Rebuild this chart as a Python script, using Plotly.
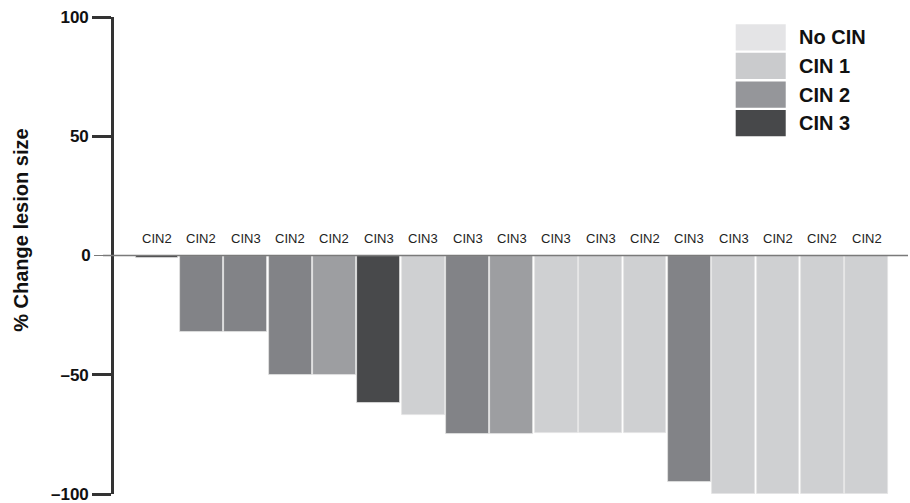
import plotly.graph_objects as go

# Per-lesion percent change in lesion size, ordered as a waterfall
baseline_grade = ["CIN2", "CIN2", "CIN3", "CIN2", "CIN2", "CIN3", "CIN3", "CIN3", "CIN3",
                  "CIN3", "CIN3", "CIN2", "CIN3", "CIN3", "CIN2", "CIN2", "CIN2"]
pct_change = [-1, -32, -32, -50, -50, -62, -67, -75, -75,
              -74.5, -74.5, -74.5, -95, -100, -100, -100, -100]
outcome = ["CIN 3", "CIN 2", "CIN 2", "CIN 2", "CIN 2", "CIN 3", "CIN 1", "CIN 2", "CIN 2",
           "CIN 1", "CIN 1", "CIN 1", "CIN 2", "CIN 1", "CIN 1", "CIN 1", "CIN 1"]

legend_labels = ["No CIN", "CIN 1", "CIN 2", "CIN 3"]
y_ticks = [-100, -50, 50, 100]
y_tick_text = ["\u2013100", "\u201350", "50", "100"]

# Styling
legend_colors = {"No CIN": "#e4e4e6", "CIN 1": "#cacbcd", "CIN 2": "#95969a", "CIN 3": "#47484a"}
bar_colors = {"No CIN": "#e4e4e6", "CIN 1": "#cfd0d2", "CIN 2": "#828387", "CIN 3": "#48494b"}
fills = [bar_colors[o] for o in outcome]
fills[0] = "#3c3c3e"
fills[4] = "#9d9ea1"
fills[8] = "#9d9ea1"

FONT = "Liberation Sans, Arial, Helvetica, sans-serif"
AXIS = "#333333"

x = list(range(len(pct_change)))

fig = go.Figure()
fig.add_trace(go.Bar(
    x=x, y=pct_change, width=0.965,
    marker=dict(color=fills, line=dict(color="#e2e2e2", width=0.8)),
    showlegend=False, hoverinfo="skip",
))
# carrier trace for the overlaid zero-tick axis
fig.add_trace(go.Scatter(x=[0], y=[0], yaxis="y2", mode="markers",
                         marker=dict(opacity=0), showlegend=False, hoverinfo="skip"))

# grade labels above each bar
for xi, g in zip(x, baseline_grade):
    fig.add_annotation(x=xi, y=0, text=g, showarrow=False, yanchor="bottom", yshift=8,
                       font=dict(family=FONT, size=13, color="#222222"))

# zero reference line
fig.add_shape(type="line", xref="paper", yref="y", x0=-0.014, x1=1, y0=0, y1=0,
              line=dict(color="#7a7a7a", width=1.3), layer="above")

# legend swatches and labels
row_h = 0.060
top = 0.985
for i, lab in enumerate(legend_labels):
    y1 = top - i * row_h
    y0 = y1 - row_h * 0.92
    fig.add_shape(type="rect", xref="paper", yref="paper", x0=0.783, x1=0.846, y0=y0, y1=y1,
                  fillcolor=legend_colors[lab], line=dict(width=0))
    fig.add_annotation(xref="paper", yref="paper", x=0.86, y=(y0 + y1) / 2, text=f"<b>{lab}</b>",
                       showarrow=False, xanchor="left", yanchor="middle",
                       font=dict(family=FONT, size=20, color="#111111"))

# axis title
fig.add_annotation(xref="paper", yref="paper", x=-0.117, y=0.552, text="<b>% Change lesion size</b>",
                   textangle=-90, showarrow=False, xanchor="center", yanchor="middle",
                   font=dict(family=FONT, size=20, color="#111111"))

fig.update_layout(
    width=910, height=503,
    margin=dict(l=114, r=2, t=17, b=9, autoexpand=False),
    paper_bgcolor="white", plot_bgcolor="white",
    bargap=0,
    xaxis=dict(range=[-0.97, 16.93], visible=False, fixedrange=True),
    yaxis=dict(range=[-100, 100], tickvals=y_ticks,
               ticktext=[f"<b>{t}</b>" for t in y_tick_text],
               showline=True, linewidth=2.6, linecolor=AXIS, mirror=False,
               ticks="outside", ticklen=19, tickwidth=2.6, tickcolor=AXIS,
               showgrid=False, zeroline=False, ticklabeloverflow="allow", automargin=False,
               tickfont=dict(family=FONT, size=17, color="#111111")),
    yaxis2=dict(range=[-100, 100], overlaying="y", side="left", tickvals=[0],
                ticktext=["<b>0</b>"], showline=False, showgrid=False, zeroline=False,
                ticks="outside", ticklen=19, tickwidth=1.3, tickcolor="#7a7a7a", automargin=False,
                tickfont=dict(family=FONT, size=17, color="#111111")),
    font=dict(family=FONT),
)

fig.write_html("out.html")
